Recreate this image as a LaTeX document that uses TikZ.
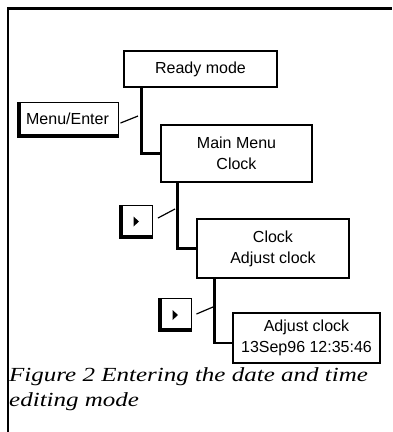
\documentclass[tikz,border=0pt]{standalone}
\usepackage{fontspec}
\setmainfont{Liberation Sans}
\newfontfamily\capfont{Liberation Serif}
\begin{document}
\begin{tikzpicture}[x=1pt,y=-1pt,
  box/.style={draw, line width=1.2pt, inner sep=0pt, align=center,
    font=\fontsize{16}{21}\selectfont},
  btn/.style={draw, line width=1pt, inner sep=0pt, align=center,
    font=\fontsize{16}{20}\selectfont,
    path picture={\draw[line width=7pt] (path picture bounding box.north west)
      -- (path picture bounding box.south west) -- (path picture bounding box.south east);}},
  arrowbtn/.style={btn, minimum width=33pt, minimum height=33pt,
    path picture={\draw[line width=7pt] (path picture bounding box.north west)
      -- (path picture bounding box.south west) -- (path picture bounding box.south east);
      \fill ([shift={(-2.5pt,5pt)}]path picture bounding box.center) -- ++(5.5,5) -- ++(-5.5,5) -- cycle;}},
  link/.style={line width=2.3pt},
  tickline/.style={line width=1.2pt},
  caption/.style={anchor=base west, inner sep=0pt,
    font=\capfont\itshape\fontsize{20}{26}\selectfont}]
\useasboundingbox (0,0) rectangle (392,432);
% frame
\draw[line width=2.5pt] (8,432) -- (8,8.7) -- (392,8.7);
% mode boxes
\node[box, minimum width=153pt, minimum height=36pt] (ready) at (200.5,69) {Ready mode};
\node[box, minimum width=151pt, minimum height=57pt] (main) at (236.5,153.5) {Main Menu\\Clock};
\node[box, minimum width=152pt, minimum height=59pt] (clock) at (273,248.5) {Clock\\Adjust clock};
\node[box, minimum width=147pt, minimum height=50pt] (adjust) at (306.5,338) {Adjust clock\\13Sep96 12:35:46};
% connectors
\draw[link] ([xshift=18pt]ready.south west) |- (main.west);
\draw[link] ([xshift=17pt]main.south west) |- (clock.west);
\draw[link] ([xshift=18pt]clock.south west) |- ([yshift=-5pt]adjust.west);
% keys
\node[btn, minimum width=101pt, minimum height=35pt] (menu) at (67.5,120) {\raisebox{2pt}{Menu/Enter}};
\node[arrowbtn] (right1) at (136,221.5) {};
\node[arrowbtn] (right2) at (175,315) {};
% ticks
\coordinate (t1) at (138,116);
\coordinate (t2) at (175,209);
\coordinate (t3) at (213,307);
\draw[tickline] ([xshift=2pt,yshift=-3pt]menu.east) -- (t1);
\draw[tickline] ([xshift=5pt,yshift=3.5pt]right1.east) -- (t2);
\draw[tickline] ([xshift=4.5pt,yshift=1pt]right2.east) -- (t3);
% caption
\node[caption] (cap1) at (9,381) {\scalebox{1.25}[1]{Figure 2 Entering the date and time}};
\node[caption] (cap2) at (9,406) {\scalebox{1.25}[1]{editing mode}};
\end{tikzpicture}
\end{document}
